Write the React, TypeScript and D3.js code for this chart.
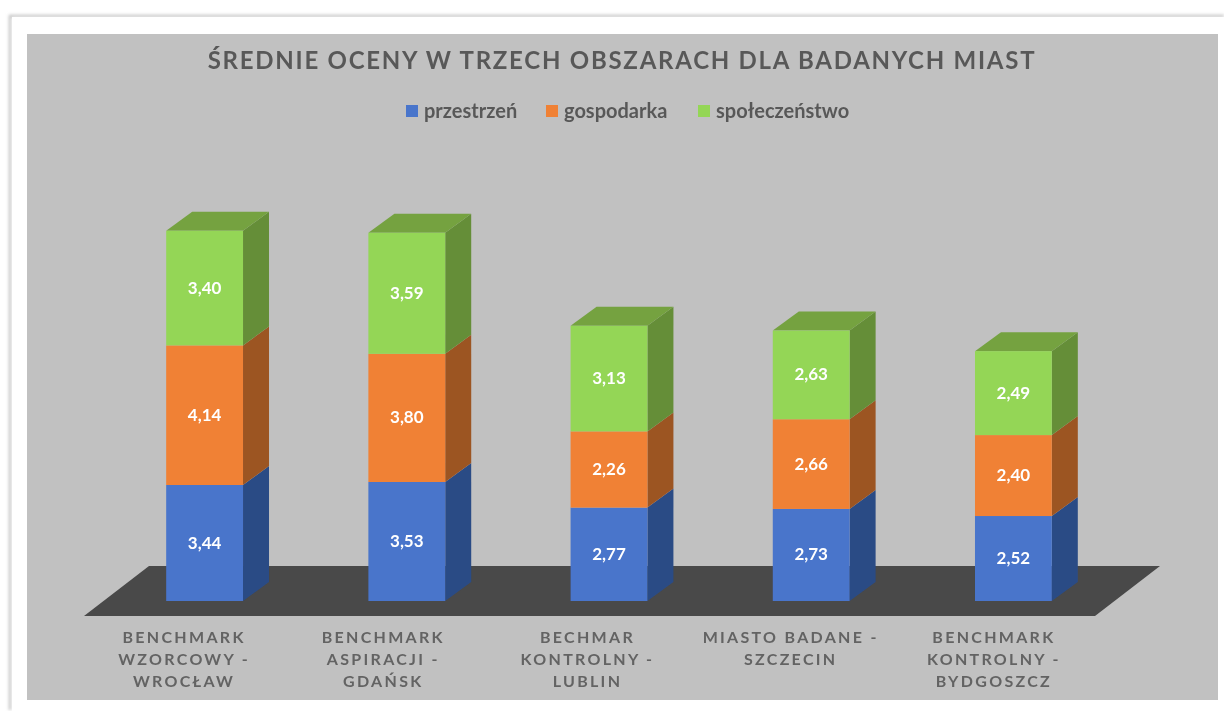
import React from "react";
import * as d3 from "d3";

const categories = [
  "BENCHMARK WZORCOWY - WROCŁAW",
  "BENCHMARK ASPIRACJI - GDAŃSK",
  "BECHMAR KONTROLNY - LUBLIN",
  "MIASTO BADANE - SZCZECIN",
  "BENCHMARK KONTROLNY - BYDGOSZCZ",
];
const categoryLines = [
  ["BENCHMARK", "WZORCOWY -", "WROCŁAW"],
  ["BENCHMARK", "ASPIRACJI -", "GDAŃSK"],
  ["BECHMAR", "KONTROLNY -", "LUBLIN"],
  ["MIASTO BADANE -", "SZCZECIN"],
  ["BENCHMARK", "KONTROLNY -", "BYDGOSZCZ"],
];
const seriesNames = ["przestrzeń", "gospodarka", "społeczeństwo"];
const przestrzen = [3.44, 3.53, 2.77, 2.73, 2.52];
const gospodarka = [4.14, 3.8, 2.26, 2.66, 2.4];
const spoleczenstwo = [3.4, 3.59, 3.13, 2.63, 2.49];

const front = ["#4874cb", "#f08135", "#94d657"];
const side = ["#2c4c85", "#9c5524", "#658e38"];
const topFace = "#74a240";
const legendX = [406, 546, 698];
// the category labels don't sit exactly under their bands in the original
const labelNudge = [-1, -4, -2, -1, 0];

const font = "Lato, 'Open Sans', sans-serif";

export default function App() {
  const rows = categories.map((c, i) => ({
    c,
    [seriesNames[0]]: przestrzen[i],
    [seriesNames[1]]: gospodarka[i],
    [seriesNames[2]]: spoleczenstwo[i],
  }));
  const stacked = d3.stack<any>().keys(seriesNames)(rows);

  // floor front edge, bars are pushed back into the floor by (dx, dy)
  const x = d3.scaleBand().domain(categories).range([84, 1095]).paddingInner(0.62).paddingOuter(0.31);
  const y = d3.scaleLinear().domain([0, 11]).range([601, 601 - 11 * 33.72]);
  const barShift = 19.5;
  const depthX = 26;
  const depthY = -19;

  return (
    <svg
      width={1224}
      height={711}
      style={{ position: "absolute", left: 0, top: 0, background: "#fff" }}
    >
      <defs>
        <filter id="soft" x="-5%" y="-5%" width="110%" height="110%">
          <feGaussianBlur stdDeviation="1.6" />
        </filter>
        <filter id="img" x="0" y="0" width="100%" height="100%">
          <feGaussianBlur stdDeviation="0.45" />
        </filter>
      </defs>
      <path d="M10,710 V16 H1224" fill="none" stroke="#c4c4c4" strokeWidth={2.5} filter="url(#soft)" />
      <g filter="url(#img)">
        <rect x={12} y={17} width={1212} height={694} fill="#fff" />
        <rect x={27} y={34} width={1191} height={666} fill="#c1c1c1" />

        <text
          x={622}
          y={69}
          textAnchor="middle"
          fontFamily={font}
          fontWeight={700}
          fontSize={24}
          letterSpacing={1.75}
          fill="#595959"
        >
          ŚREDNIE OCENY W TRZECH OBSZARACH DLA BADANYCH MIAST
        </text>

        {seriesNames.map((s, i) => (
          <g key={s}>
            <rect x={legendX[i]} y={105} width={12} height={12} fill={front[i]} />
            <text
              x={legendX[i] + 18}
              y={118}
              fontFamily={font}
              fontWeight={700}
              fontSize={20}
              fill="#595959"
            >
              {s}
            </text>
          </g>
        ))}

        {/* floor */}
        <path
          d={`M${x.range()[0]},616 L${x.range()[1]},616 L1160,566 L149,566 Z`}
          fill="#484848"
        />

        {stacked.map((layer, si) => (
          <g key={layer.key}>
            {layer.map((d, i) => {
              const x0 = x(categories[i])! + barShift;
              const x1 = x0 + x.bandwidth();
              const yb = y(d[0]);
              const yt = y(d[1]);
              return (
                <g key={i}>
                  <path
                    d={`M${x1},${yb} L${x1 + depthX},${yb + depthY} L${x1 + depthX},${yt + depthY} L${x1},${yt} Z`}
                    fill={side[si]}
                  />
                  {si === 2 && (
                    <path
                      d={`M${x0},${yt} L${x0 + depthX},${yt + depthY} L${x1 + depthX},${yt + depthY} L${x1},${yt} Z`}
                      fill={topFace}
                    />
                  )}
                  <rect x={x0} y={yt} width={x.bandwidth()} height={yb - yt} fill={front[si]} />
                  <text
                    x={(x0 + x1) / 2}
                    y={(yb + yt) / 2 + 5.5}
                    textAnchor="middle"
                    fontFamily={font}
                    fontWeight={700}
                    fontSize={17}
                    fill="#fff"
                  >
                    {(d[1] - d[0]).toFixed(2).replace(".", ",")}
                  </text>
                </g>
              );
            })}
          </g>
        ))}

        {categoryLines.map((lines, i) => (
          <text
            key={i}
            textAnchor="middle"
            fontFamily={font}
            fontWeight={700}
            fontSize={16}
            letterSpacing={2.3}
            fill="#636363"
          >
            {lines.map((l, j) => (
              <tspan key={j} x={x(categories[i])! + x.bandwidth() / 2 + labelNudge[i]} y={643 + j * 22}>
                {l}
              </tspan>
            ))}
          </text>
        ))}
      </g>
    </svg>
  );
}
